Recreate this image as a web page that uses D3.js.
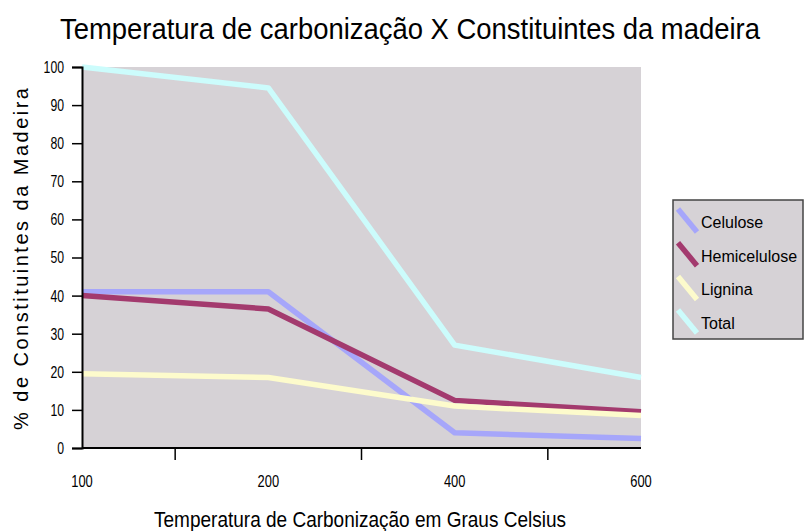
<!DOCTYPE html>
<html>
<head>
<meta charset="utf-8">
<script src="https://cdn.jsdelivr.net/npm/d3@7"></script>
<style>
    body { margin: 0; background: #fff; }
    svg text { font-family: "Liberation Sans", Arial, sans-serif; fill: #000; }
</style>
</head>
<body>
<div id="chart"></div>
<script>
const temperatures = ['100', '200', '400', '600'];
const celulose = [41, 41, 4, 2.5];
const hemicelulose = [40, 36.5, 12.5, 9.5];
const lignina = [19.5, 18.5, 11, 8.5];
const total = [100, 94.5, 27, 18.5];
const yTicks = [0, 10, 20, 30, 40, 50, 60, 70, 80, 90, 100];

const seriesNames = ['Celulose', 'Hemicelulose', 'Lignina', 'Total'];
const seriesColors = ['#a6a6fa', '#a33a6e', '#fdfbcc', '#ccfcfc'];
const seriesValues = [celulose, hemicelulose, lignina, total];

const width = 804, height = 531;
const margin = { top: 67, right: 163, bottom: 83, left: 82 };

// squeeze the glyphs, the original uses a condensed face
const narrow = (sel, factor) => sel.each(function() {
    const w = this.getComputedTextLength();
    d3.select(this)
        .attr('textLength', w * factor)
        .attr('lengthAdjust', 'spacingAndGlyphs');
});

const svg = d3.select('#chart')
    .append('svg')
    .attr('width', width)
    .attr('height', height);

const x = d3.scalePoint()
    .domain(temperatures)
    .range([margin.left, width - margin.right]);

const y = d3.scaleLinear()
    .domain([0, 100])
    .range([height - margin.bottom, margin.top]);

// plot background
svg.append('rect')
    .attr('x', margin.left)
    .attr('y', margin.top)
    .attr('width', width - margin.right - margin.left)
    .attr('height', height - margin.bottom - margin.top)
    .attr('fill', '#d6d2d6');

// lines
const line = d3.line()
    .x((d, i) => x(temperatures[i]))
    .y(d => y(d));

seriesValues.forEach((vals, i) => {
    svg.append('path')
        .datum(vals)
        .attr('d', line)
        .attr('fill', 'none')
        .attr('stroke', seriesColors[i])
        .attr('stroke-width', 5.5)
        .attr('stroke-linejoin', 'round');
});

// y axis
const yAxis = svg.append('g')
    .attr('transform', `translate(${margin.left},0)`)
    .call(d3.axisLeft(y).tickValues(yTicks).tickSize(10).tickPadding(8));
yAxis.attr('font-size', null).attr('font-family', null);
yAxis.select('.domain').attr('stroke', '#000').attr('stroke-width', 2);
yAxis.selectAll('.tick line').attr('stroke', '#000').attr('stroke-width', 1.5);
yAxis.selectAll('text')
    .style('font-size', '17px')
    .style('fill', '#000')
    .call(narrow, 0.72);

// x axis: line, ticks between categories, labels under points
const baseY = y(0);
svg.append('line')
    .attr('x1', margin.left).attr('x2', width - margin.right)
    .attr('y1', baseY).attr('y2', baseY)
    .attr('stroke', '#000').attr('stroke-width', 2);

const midTicks = temperatures.slice(1).map((t, i) => (x(temperatures[i]) + x(t)) / 2);
svg.selectAll('.xtick')
    .data(midTicks)
    .enter()
    .append('line')
    .attr('x1', d => d).attr('x2', d => d)
    .attr('y1', baseY).attr('y2', baseY + 12)
    .attr('stroke', '#000').attr('stroke-width', 1.5);

svg.selectAll('.xlabel')
    .data(temperatures)
    .enter()
    .append('text')
    .attr('x', d => x(d))
    .attr('y', baseY + 39)
    .attr('text-anchor', 'middle')
    .style('font-size', '17px')
    .text(d => d)
    .call(narrow, 0.76);

// title
svg.append('text')
    .attr('x', 410)
    .attr('y', 39)
    .attr('text-anchor', 'middle')
    .attr('textLength', 700)
    .attr('lengthAdjust', 'spacingAndGlyphs')
    .style('font-size', '29px')
    .text('Temperatura de carbonização X Constituintes da madeira');

// y axis label
svg.append('text')
    .attr('transform', 'translate(28,259) rotate(-90)')
    .attr('text-anchor', 'middle')
    .attr('textLength', 342)
    .attr('lengthAdjust', 'spacing')
    .style('font-size', '20px')
    .text('% de Constituintes da Madeira');

// x axis label
svg.append('text')
    .attr('x', 360)
    .attr('y', 527)
    .attr('text-anchor', 'middle')
    .attr('textLength', 412)
    .attr('lengthAdjust', 'spacingAndGlyphs')
    .style('font-size', '22px')
    .text('Temperatura de Carbonização em Graus Celsius');

// legend
const legend = svg.append('g').attr('transform', 'translate(673,200)');
legend.append('rect')
    .attr('width', 130)
    .attr('height', 139)
    .attr('fill', '#d6d2d6')
    .attr('stroke', '#444')
    .attr('stroke-width', 1.5);

const items = legend.selectAll('.item')
    .data(seriesNames)
    .enter()
    .append('g')
    .attr('transform', (d, i) => `translate(0,${28 + i * 33.7})`);

items.append('line')
    .attr('x1', 5).attr('y1', -19)
    .attr('x2', 24).attr('y2', 4)
    .attr('stroke', (d, i) => seriesColors[i])
    .attr('stroke-width', 5.5);

items.append('text')
    .attr('x', 28)
    .attr('y', 0)
    .style('font-size', '16px')
    .text(d => d);
</script>
</body>
</html>
